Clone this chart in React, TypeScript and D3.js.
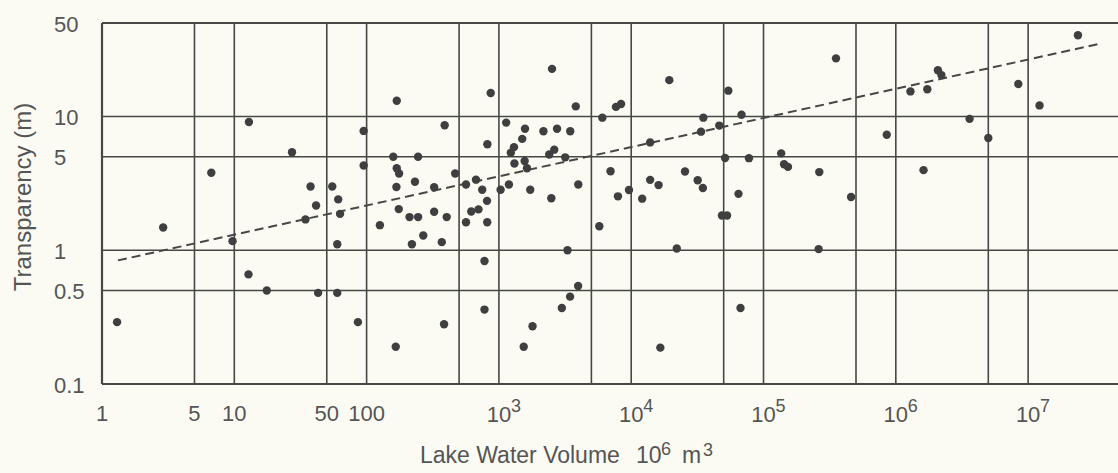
import React from 'react';
import * as d3 from 'd3';

// Lake water volume (10^6 m^3) for each lake
const volume = [
  1.3, 2.9, 6.7, 9.7, 12.8, 12.9, 17.6, 27.3, 34.5, 37.7, 41.5, 43, 55, 60, 60, 61, 63, 86, 95, 95,
  126, 159, 169, 169, 176, 232, 168, 166, 175, 211, 245, 245, 220, 268, 324, 324, 370, 389, 385, 403,
  467, 564, 564, 618, 671, 701, 748, 778, 778, 813, 816, 818, 867, 1030, 1135, 1190, 1230, 1300, 1310, 1500,
  1575, 1565, 1630, 1540, 1725, 1795, 2170, 2400, 2490, 2520, 2620, 2750, 2990, 3170, 3300, 3450, 3460, 3810, 3980, 3970,
  5740, 6050, 6980, 7670, 8380, 7940, 9620, 12100, 13900, 13900, 16100, 16600, 19400, 22100, 25500, 31800, 33700, 35100, 34800, 46300,
  48500, 53000, 51200, 54200, 64700, 67000, 68200, 77600, 136000, 143000, 153000, 264000, 261000, 353000, 459000, 854000, 1290000, 1730000, 1620000, 2080000,
  2210000, 3610000, 5000000, 8430000, 12200000, 23800000,
];

// Transparency (m) for each lake, same order
const transparency = [
  0.29, 1.48, 3.8, 1.17, 0.66, 9.1, 0.5, 5.4, 1.7, 3.0, 2.16, 0.48, 3.0, 1.11, 0.48, 2.4, 1.87, 0.29, 7.8, 4.3,
  1.54, 5.0, 13.1, 4.1, 3.75, 3.25, 2.97, 0.19, 2.03, 1.77, 1.77, 5.0, 1.11, 1.29, 2.96, 1.94, 1.15, 8.6, 0.28, 1.77,
  3.75, 3.1, 1.62, 1.95, 3.37, 2.02, 2.83, 0.83, 0.36, 2.34, 1.62, 6.2, 15, 2.83, 9.0, 3.1, 5.35, 5.9, 4.45, 6.8,
  8.1, 4.65, 4.1, 0.19, 2.83, 0.27, 7.75, 5.2, 2.45, 22.7, 5.65, 8.1, 0.37, 4.95, 1.0, 0.45, 7.75, 11.9, 3.1, 0.54,
  1.51, 9.8, 3.9, 11.8, 12.4, 2.53, 2.82, 2.43, 6.4, 3.36, 3.07, 0.187, 18.7, 1.03, 3.88, 3.34, 7.7, 9.8, 2.92, 8.55,
  1.82, 1.82, 4.9, 15.6, 2.64, 0.37, 10.3, 4.88, 5.3, 4.4, 4.2, 3.84, 1.02, 27.2, 2.5, 7.3, 15.4, 16.0, 3.97, 22.2,
  20.4, 9.6, 6.9, 17.5, 12.1, 40.5,
];

// Dashed regression line end points
const trendVolume = [1.32, 34000000];
const trendTransparency = [0.84, 34.8];

// Grid and tick values
const xGridValues = [5, 10, 50, 100, 500, 1e3, 5e3, 1e4, 5e4, 1e5, 5e5, 1e6, 5e6, 1e7];
const yGridValues = [0.5, 1, 5, 10];
const yTickValues = [0.1, 0.5, 1, 5, 10, 50];
const yTickLabels = ['0.1', '0.5', '1', '5', '10', '50'];
const xPlainTickValues = [1, 5, 10, 50, 100];
const xPlainTickLabels = ['1', '5', '10', '50', '100'];
const xPowerExponents = [3, 4, 5, 6, 7];

const W = 1118;
const H = 473;
const BG = '#fbfbf4';
const INK = '#474747';
const TEXT = '#555555';
const FONT = '"Liberation Sans", Arial, Helvetica, sans-serif';

export default function App() {
  const x = d3.scaleLog().domain([1, 5e7]).range([102, 1120.6]);
  const y = d3.scaleLog().domain([0.1, 50]).range([384, 23]);

  const left = x(1);
  const bottom = y(0.1);
  const top = y(50);

  const trendData = trendVolume.map((v, i) => [v, trendTransparency[i]] as [number, number]);
  const trendPath = d3
    .line<[number, number]>()
    .x((d) => x(d[0]))
    .y((d) => y(d[1]))(trendData) as string;

  return (
    <svg
      width={W}
      height={H}
      viewBox={`0 0 ${W} ${H}`}
      style={{ position: 'absolute', left: 0, top: 0, display: 'block' }}
      fontFamily={FONT}
    >
      <rect x={0} y={0} width={W} height={H} fill={BG} />

      {/* horizontal grid lines */}
      {yGridValues.map((v) => (
        <line key={'hy' + v} x1={left} x2={W} y1={y(v)} y2={y(v)} stroke={INK} strokeWidth={1.6} />
      ))}
      {/* vertical grid lines */}
      {xGridValues.map((v) => (
        <line key={'vx' + v} x1={x(v)} x2={x(v)} y1={top} y2={bottom} stroke={INK} strokeWidth={1.6} />
      ))}

      {/* frame */}
      <line x1={left} x2={W} y1={top} y2={top} stroke={INK} strokeWidth={2.2} />
      <line x1={left} x2={W} y1={bottom} y2={bottom} stroke={INK} strokeWidth={2.2} />
      <line x1={left} x2={left} y1={top} y2={bottom} stroke={INK} strokeWidth={2.2} />

      {/* trend line */}
      <path d={trendPath} fill="none" stroke={INK} strokeWidth={2} strokeDasharray="9,5" />

      {/* points */}
      {volume.map((v, i) => (
        <circle key={'p' + i} cx={x(v)} cy={y(transparency[i])} r={4.2} fill="#3f3f3f" />
      ))}

      {/* y tick labels */}
      {yTickValues.map((v, i) => (
        <text key={'yl' + v} x={54} y={y(v) + 8.5} fontSize={22} fill={TEXT} textAnchor="start">
          {yTickLabels[i]}
        </text>
      ))}

      {/* x tick labels, plain */}
      {xPlainTickValues.map((v, i) => (
        <text key={'xl' + v} x={x(v)} y={421} fontSize={22} fill={TEXT} textAnchor="middle">
          {xPlainTickLabels[i]}
        </text>
      ))}
      {/* x tick labels, powers of ten */}
      {xPowerExponents.map((e) => {
        const px = x(Math.pow(10, e));
        return (
          <g key={'xp' + e}>
            <text x={px} y={422} fontSize={22} fill={TEXT} textAnchor="middle">
              10
            </text>
            <text x={px + 12} y={412} fontSize={18} fill={TEXT} textAnchor="start">
              {e}
            </text>
          </g>
        );
      })}

      {/* x axis title */}
      <text x={420} y={463} fontSize={23} fill={TEXT}>
        Lake Water Volume
      </text>
      <text x={636} y={463} fontSize={23} fill={TEXT}>
        10
      </text>
      <text x={661} y={455} fontSize={18} fill={TEXT}>
        6
      </text>
      <text x={682} y={463} fontSize={23} fill={TEXT}>
        m
      </text>
      <text x={703} y={456} fontSize={18} fill={TEXT}>
        3
      </text>

      {/* y axis title */}
      <text
        transform={`translate(31, 197) rotate(-90)`}
        fontSize={24}
        fill={TEXT}
        textAnchor="middle"
      >
        Transparency (m)
      </text>
    </svg>
  );
}
